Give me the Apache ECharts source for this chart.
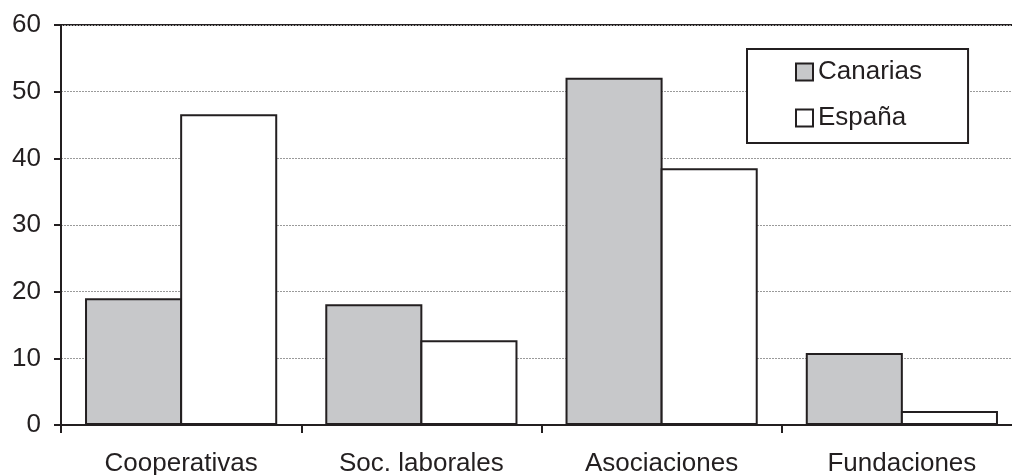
<!DOCTYPE html>
<html>
<head>
<meta charset="utf-8">
<script src="https://cdn.jsdelivr.net/npm/echarts@6/dist/echarts.min.js"></script>
<style>
html,body{margin:0;padding:0;background:#fff;}
#chart{width:1012px;height:475px;}
</style>
</head>
<body>
<div id="chart"></div>
<script>
var categories = ['Cooperativas', 'Soc. laborales', 'Asociaciones', 'Fundaciones'];
var canarias = [19.0, 18.1, 52.1, 10.8];
var espana = [46.6, 12.7, 38.5, 2.1];
var seriesNames = ['Canarias', 'España'];
var yTicks = [0, 10, 20, 30, 40, 50, 60];

var chart = echarts.init(document.getElementById('chart'), null, {renderer: 'canvas'});
var ink = '#231f20';
var font = 'Liberation Sans, Arial, sans-serif';
chart.setOption({
  animation: false,
  backgroundColor: '#fff',
  grid: {left: 61, top: 25, width: 961, height: 400, outerBoundsMode: 'none', containLabel: false,
         show: true, borderColor: ink, borderWidth: 2, backgroundColor: 'transparent'},
  legend: {
    orient: 'vertical', left: 747, top: 49,
    backgroundColor: '#fff', borderColor: ink, borderWidth: 2, borderRadius: 0,
    padding: [10, 46, 12, 48],
    itemGap: 20, itemWidth: 17, itemHeight: 17,
    textStyle: {fontFamily: font, fontSize: 26, color: ink},
    data: [
      {name: seriesNames[0], icon: 'rect', itemStyle: {color: '#c7c8ca', borderColor: ink, borderWidth: 2}},
      {name: seriesNames[1], icon: 'rect', itemStyle: {color: '#fff', borderColor: ink, borderWidth: 2}}
    ]
  },
  xAxis: {
    type: 'category', data: categories,
    axisLine: {lineStyle: {color: ink, width: 2}},
    axisTick: {show: true, length: 8, lineStyle: {color: ink, width: 2}},
    axisLabel: {fontFamily: font, fontSize: 26, color: ink, margin: 26},
    splitLine: {show: false}
  },
  yAxis: {
    type: 'value', min: yTicks[0], max: yTicks[yTicks.length - 1], interval: 10,
    axisLine: {show: true, lineStyle: {color: ink, width: 2}},
    axisTick: {show: true, length: 7, lineStyle: {color: ink, width: 2}},
    axisLabel: {fontFamily: font, fontSize: 26, color: ink, margin: 20},
    splitLine: {show: true, lineStyle: {color: '#9a9a9a', width: 1, type: [2, 1]}}
  },
  series: [
    {name: seriesNames[0], type: 'bar', data: canarias, barGap: '-2%', barCategoryGap: '20%',
     itemStyle: {color: '#c7c8ca', borderColor: ink, borderWidth: 2}},
    {name: seriesNames[1], type: 'bar', data: espana, barGap: '-2%', barCategoryGap: '20%',
     itemStyle: {color: '#fff', borderColor: ink, borderWidth: 2}}
  ]
});
</script>
</body>
</html>
